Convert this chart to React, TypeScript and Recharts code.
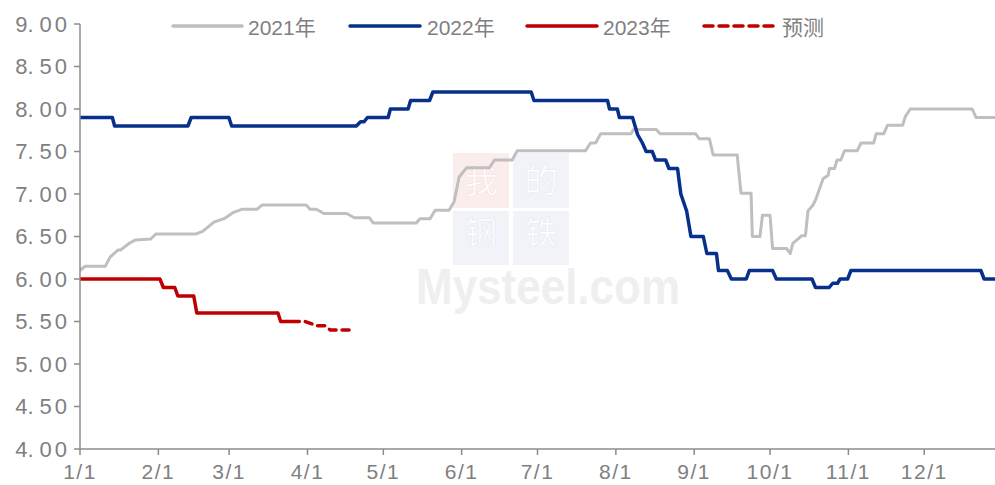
import React from 'react';
import { LineChart, Line, XAxis, YAxis } from 'recharts';

// ---- data (day-of-year index, value) ----
const monthTicks = [0, 31, 59, 90, 120, 151, 181, 212, 243, 273, 304, 334];
const monthLabels = ['1/1', '2/1', '3/1', '4/1', '5/1', '6/1', '7/1', '8/1', '9/1', '10/1', '11/1', '12/1'];
const yTicks = [4, 4.5, 5, 5.5, 6, 6.5, 7, 7.5, 8, 8.5, 9];

const days2021 = [0, 2, 10, 12, 15, 16, 19.5, 22, 28, 30, 46, 48.5, 53, 57, 60.5, 64, 70, 72, 89.5, 91, 93.5, 96.5, 105.5, 108.5, 114.5, 116, 133, 134.5, 138.5, 140.5, 146, 148, 150, 153, 162, 164, 171, 173, 200, 202, 204, 206, 218, 219, 228, 229.5, 243.5, 245, 249, 250.5, 260, 261.5, 265.5, 266, 269, 270, 273, 274, 279.5, 281, 282, 284, 285.5, 287, 288, 290, 291, 294, 296, 296.5, 298.5, 299.5, 301, 302.5, 307.5, 309, 314, 315, 318, 319.5, 325.5, 326.5, 328.5, 353, 354.5, 362];
const values2021 = [6.1, 6.15, 6.15, 6.26, 6.34, 6.34, 6.42, 6.46, 6.47, 6.53, 6.53, 6.56, 6.67, 6.71, 6.78, 6.82, 6.82, 6.87, 6.87, 6.82, 6.82, 6.77, 6.77, 6.72, 6.72, 6.66, 6.66, 6.71, 6.71, 6.81, 6.81, 6.91, 7.2, 7.31, 7.31, 7.4, 7.4, 7.51, 7.51, 7.6, 7.6, 7.71, 7.71, 7.76, 7.76, 7.71, 7.71, 7.65, 7.65, 7.46, 7.46, 7.01, 7.01, 6.5, 6.5, 6.75, 6.75, 6.36, 6.36, 6.3, 6.42, 6.47, 6.51, 6.51, 6.8, 6.87, 6.93, 7.18, 7.22, 7.3, 7.3, 7.4, 7.4, 7.51, 7.51, 7.6, 7.6, 7.71, 7.71, 7.81, 7.81, 7.91, 8.0, 8.0, 7.9, 7.9];

const days2022 = [0, 12.8, 13.7, 42.7, 44, 58.9, 60, 109.3, 111, 112.4, 113.7, 121.9, 122.8, 129.8, 130.8, 138.3, 139.6, 178.5, 179.6, 208.7, 209.5, 212.6, 213.4, 218.6, 220.6, 222.5, 224, 226.4, 227.7, 231.7, 233, 236.4, 237.7, 240, 241.7, 246.6, 248, 251.8, 252.6, 256.1, 257.7, 263.6, 264.8, 274, 275.5, 289.6, 291, 296.4, 297.8, 299.7, 300.7, 303.7, 305, 356.4, 357.7, 362];
const values2022 = [7.9, 7.9, 7.8, 7.8, 7.9, 7.9, 7.8, 7.8, 7.85, 7.85, 7.9, 7.9, 8.0, 8.0, 8.1, 8.1, 8.2, 8.2, 8.1, 8.1, 8.0, 8.0, 7.9, 7.9, 7.7, 7.6, 7.5, 7.5, 7.4, 7.4, 7.3, 7.3, 7.0, 6.8, 6.5, 6.5, 6.3, 6.3, 6.1, 6.1, 6.0, 6.0, 6.1, 6.1, 6.0, 6.0, 5.9, 5.9, 5.95, 5.95, 6.0, 6.0, 6.1, 6.1, 6.0, 6.0];

const days2023 = [0, 31.6, 33, 37.5, 38.7, 45, 46.2, 78.3, 79.4, 84];
const values2023 = [6.0, 6.0, 5.9, 5.9, 5.8, 5.8, 5.6, 5.6, 5.5, 5.5];

const daysForecast = [84, 89, 94, 97, 99, 108.7];
const valuesForecast = [5.5, 5.5, 5.45, 5.45, 5.4, 5.4];

const build = (ds: number[], vs: number[]) => ds.map((d, i) => ({ d, v: vs[i] }));
const data2021 = build(days2021, values2021);
const data2022 = build(days2022, values2022);
const data2023 = build(days2023, values2023);
const dataForecast = build(daysForecast, valuesForecast);

const GRAY = '#BFBFBF';
const NAVY = '#06308C';
const RED = '#C00000';
const TEXT = '#808080';
const AXIS = '#8C8C8C';
const FONT = "'Liberation Sans', 'Noto Sans CJK SC', sans-serif";

const legendItems = [
  { x1: 173, x2: 242, tx: 248, label: '2021年', color: GRAY, dash: undefined as string | undefined },
  { x1: 350, x2: 420, tx: 427, label: '2022年', color: NAVY, dash: undefined },
  { x1: 527, x2: 597, tx: 603, label: '2023年', color: RED, dash: undefined },
  { x1: 704, x2: 774, tx: 782, label: '预测', color: RED, dash: '9 6' },
];

const YTick = (props: any) => {
  const { x, y, payload } = props;
  const s = Number(payload.value).toFixed(2);
  const [a, b] = s.split('.');
  return (
    <text x={x} y={y} dy="0.36em" textAnchor="end" fill={TEXT} fontSize={22} fontFamily={FONT}>
      <tspan>{a}.</tspan>
      <tspan dx={6} letterSpacing={3}>{b}</tspan>
    </text>
  );
};

export default function App() {
  return (
    <div style={{ position: 'absolute', left: 0, top: 0, width: 995, height: 485, background: '#fff', fontFamily: FONT }}>
      {/* watermark */}
      <svg width={995} height={485} style={{ position: 'absolute', left: 0, top: 0 }}>
        <rect x={453} y={153} width={56} height={55} fill="#FCEDED" />
        <rect x={513} y={153} width={56} height={55} fill="#F1F3F8" />
        <rect x={453} y={211} width={56} height={54} fill="#F1F3F8" />
        <rect x={513} y={211} width={56} height={54} fill="#F1F3F8" />
        <text x={481} y={193} textAnchor="middle" fontSize={34} fill="#FFFFFF" stroke="#F6E0E0" strokeWidth={0.6} fontFamily="'Noto Sans CJK SC'">我</text>
        <text x={541} y={193} textAnchor="middle" fontSize={34} fill="#FFFFFF" stroke="#E6E9F1" strokeWidth={0.6} fontFamily="'Noto Sans CJK SC'">的</text>
        <text x={481} y={244} textAnchor="middle" fontSize={32} fill="#FFFFFF" stroke="#E6E9F1" strokeWidth={0.6} fontFamily="'Noto Sans CJK SC'">钢</text>
        <text x={541} y={244} textAnchor="middle" fontSize={32} fill="#FFFFFF" stroke="#E6E9F1" strokeWidth={0.6} fontFamily="'Noto Sans CJK SC'">铁</text>
        <text x={416} y={304} fontSize={50} fontWeight="bold" fill="#EFEFEF" fontFamily="'Liberation Sans'" textLength={264} lengthAdjust="spacingAndGlyphs">Mysteel.com</text>
      </svg>
      <div style={{ position: 'absolute', left: 0, top: 0 }}>
        <LineChart width={995} height={485} margin={{ top: 24, right: 0, bottom: 0, left: 0 }}>
          <XAxis
            dataKey="d"
            type="number"
            domain={[0, 362]}
            ticks={monthTicks}
            tickFormatter={(v: number) => monthLabels[monthTicks.indexOf(v)] ?? ''}
            height={36}
            allowDataOverflow
            stroke={AXIS}
            strokeWidth={1.5}
            tickSize={6}
            tickMargin={9}
            tick={{ fill: TEXT, fontSize: 21, fontFamily: FONT, letterSpacing: 1.5 }}
            interval={0}
          />
          <YAxis
            type="number"
            domain={[4, 9]}
            ticks={yTicks}
            width={80}
            stroke={AXIS}
            strokeWidth={1.5}
            tickSize={6}
            tickMargin={4}
            tick={<YTick />}
            interval={0}
          />
          <Line data={data2021} dataKey="v" type="linear" stroke={GRAY} strokeWidth={3} dot={false} isAnimationActive={false} strokeLinejoin="round" />
          <Line data={data2022} dataKey="v" type="linear" stroke={NAVY} strokeWidth={3.5} dot={false} isAnimationActive={false} strokeLinejoin="round" />
          <Line data={data2023} dataKey="v" type="linear" stroke={RED} strokeWidth={3.5} dot={false} isAnimationActive={false} strokeLinejoin="round" />
          <Line data={dataForecast} dataKey="v" type="linear" stroke={RED} strokeWidth={3.5} strokeDasharray="7 6" strokeLinecap="round" dot={false} isAnimationActive={false} />
        </LineChart>
      </div>
      {/* legend */}
      <svg width={995} height={50} style={{ position: 'absolute', left: 0, top: 0 }}>
        {legendItems.map((it) => (
          <g key={it.label}>
            <line x1={it.x1} x2={it.x2} y1={26} y2={26} stroke={it.color} strokeWidth={3.5} strokeDasharray={it.dash} strokeLinecap="round" />
            <text x={it.tx} y={35} fontSize={21} fill={TEXT} fontFamily={FONT}>{it.label}</text>
          </g>
        ))}
      </svg>
    </div>
  );
}
